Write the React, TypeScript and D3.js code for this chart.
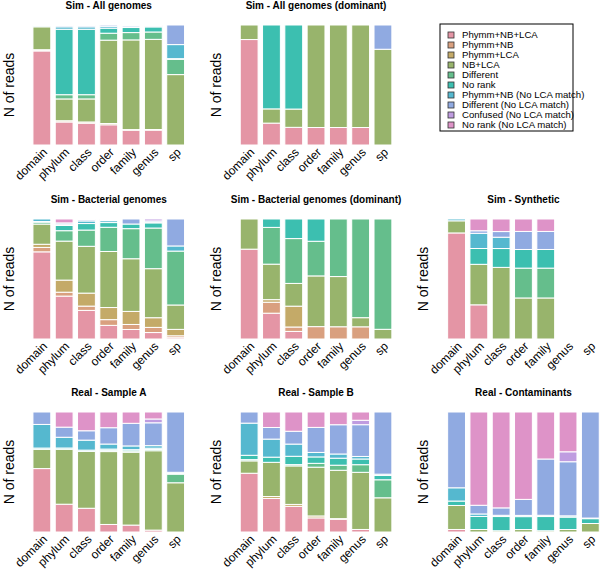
import React from "react";
import * as d3 from "d3";

const categories = [
  "Phymm+NB+LCA",
  "Phymm+NB",
  "Phymm+LCA",
  "NB+LCA",
  "Different",
  "No rank",
  "Phymm+NB (No LCA match)",
  "Different (No LCA match)",
  "Confused (No LCA match)",
  "No rank (No LCA match)",
];
const colors = [
  "#E495A5", "#D9A07F", "#C4AA68", "#98B46C", "#65BE8C",
  "#3CBFB0", "#55B8CF", "#90AAE1", "#BF9CE0", "#DE93C8",
];
const ranks = ["domain", "phylum", "class", "order", "family", "genus", "sp"];

const simAll = [
  [78, 0.5, 0.5, 19, 0.5, 0.5, 0.5, 0, 0, 0],
  [19, 0, 1, 18, 3.5, 54, 2, 1, 0, 0.5],
  [18, 0, 1, 19, 3.5, 54, 2, 1, 0, 0.5],
  [16, 0, 1, 66, 5.5, 4, 1.5, 1, 0, 0],
  [11.7, 0, 0.5, 71, 5.8, 4, 0.5, 1, 0, 0.5],
  [11.7, 0, 0.5, 71, 5.8, 4, 0.5, 0.5, 0, 0.5],
  [0, 0, 0, 57.5, 12.5, 0.5, 11.5, 16, 0, 0],
];
const simAllDominant = [
  [87, 0, 0, 12, 0, 0, 0, 0, 0, 0],
  [18, 0, 0, 11.7, 0, 69, 0, 0, 0, 0],
  [14.5, 0, 0, 15, 0, 69, 0, 0, 0, 0],
  [14.5, 0, 0, 85, 0, 0, 0, 0, 0, 0],
  [14.5, 0, 0, 85, 0, 0, 0, 0, 0, 0],
  [14.5, 0, 0, 85, 0, 0, 0, 0, 0, 0],
  [0, 0, 0, 79, 0, 0, 0, 20, 0, 0],
];
const simBacterial = [
  [69, 3.5, 2.5, 16, 1.5, 0.5, 2, 0, 0, 0],
  [33, 3, 9.3, 30, 8, 4, 1, 1, 0, 3],
  [22, 3.3, 10, 36, 12.5, 5, 2, 1, 0, 0.5],
  [10.7, 4.5, 9.5, 44, 19, 3.7, 1.5, 0.8, 0, 0.5],
  [7.6, 4, 10.4, 42, 24, 3.7, 0, 4, 0, 0],
  [5, 4, 7.5, 38, 31.5, 4, 0.5, 1, 1.5, 0],
  [1, 1.5, 5, 19, 42, 0, 4, 21, 0, 0],
];
const simBacterialDominant = [
  [73, 0, 0, 24.5, 0, 0, 0, 0, 0, 0],
  [20, 8.5, 2, 27.5, 28.5, 6.5, 0, 0, 0, 0],
  [6, 3.5, 16.5, 18, 35.5, 15.5, 0, 0, 0, 0],
  [0, 10, 0, 41, 28, 18, 0, 0, 0, 0],
  [0, 10, 0, 41, 47, 0, 0, 0, 0, 0],
  [0, 10, 0, 7.5, 81, 0, 0, 0, 0, 0],
  [0, 0, 0, 8, 91, 0, 0, 0, 0, 0],
];
const simSynthetic = [
  [87.5, 0, 0, 10, 0, 0, 1.5, 0, 0, 0],
  [27, 0, 0, 32, 0, 12.5, 12, 2, 0, 9.3],
  [0, 0, 0, 57, 0, 15, 9, 4.5, 0, 10],
  [0, 0, 0, 33, 24, 15, 0, 14.5, 0, 10],
  [0, 0, 0, 33, 24, 15, 0, 14.5, 0, 10],
  null,
  null,
];
const realA = [
  [51, 0, 0, 15.5, 0, 1, 19, 10, 0, 0],
  [22, 0, 0, 43.5, 0, 1, 8.5, 8, 0, 12],
  [19, 0, 0, 45.5, 0, 1, 8, 7.5, 0, 15],
  [6, 0, 0, 58, 1, 1, 4, 13, 0, 12.5],
  [5.5, 0, 0, 58, 1, 1, 3, 18, 0, 9],
  [1.5, 0, 0, 62.5, 1, 1, 2, 18, 3, 5.5],
  [0, 0, 0, 40, 7, 0.5, 1, 49, 0, 0],
];
const realB = [
  [47.5, 0, 0, 10, 1, 3.5, 26, 9, 0, 0],
  [26, 0, 1.5, 26.5, 0, 4, 14, 9, 0, 12],
  [20, 0, 1.5, 30, 1, 6.5, 9.5, 10, 0, 15],
  [11, 0, 1.5, 38, 3, 5, 3.5, 19.5, 0, 12],
  [10, 0, 0.5, 38, 4, 5.5, 3.3, 23, 0, 10],
  [2, 0, 0, 45, 6, 4.5, 2, 25, 3.5, 6.5],
  [0, 0, 0, 27.5, 14.5, 3.5, 1, 50, 0, 0],
];
const realContaminants = [
  [2, 0, 0, 19, 0, 3.5, 10.5, 60, 0, 0],
  [0, 0, 0, 2, 0, 10.5, 2, 7, 0, 75],
  [0, 0, 0, 1, 0, 11.5, 1, 6, 0, 77.5],
  [0, 0, 0, 2, 0, 10.5, 1, 13, 0, 71],
  [0, 0, 0, 1, 0, 11.5, 1, 45.5, 0, 38],
  [0, 0, 0, 2, 0, 10, 1, 43.5, 8, 32],
  [0, 0, 0, 7, 0, 4, 0.5, 87.5, 0, 0],
];

const panelTitles = [
  "Sim - All genomes",
  "Sim - All genomes (dominant)",
  "Sim - Bacterial genomes",
  "Sim - Bacterial genomes (dominant)",
  "Sim - Synthetic",
  "Real - Sample A",
  "Real - Sample B",
  "Real - Contaminants",
];
const panelData = [simAll, simAllDominant, simBacterial, simBacterialDominant, simSynthetic, realA, realB, realContaminants];
const panelCells = [[0, 0], [0, 1], [1, 0], [1, 1], [1, 2], [2, 0], [2, 1], [2, 2]];

const FONT = "'Liberation Sans', Arial, Helvetica, sans-serif";
const colX = [29.6, 236.9, 444.3];
const rowTop = [25, 219, 412];
const plotH = 120;
const plotW = 158.3;

function Panel({ title, data, row, col }: { title: string; data: (number[] | null)[]; row: number; col: number }) {
  const x0 = colX[col];
  const top = rowTop[row];
  const bottom = top + plotH;
  const x = d3.scaleBand<string>().domain(ranks).range([x0, x0 + plotW]).paddingInner(0.2).paddingOuter(0.15);
  const y = d3.scaleLinear().domain([0, 1]).range([bottom, top]);
  const rows = ranks
    .map((r, i) => ({ rank: r, vals: data[i] }))
    .filter((d) => d.vals)
    .map((d) => {
      const o: any = { rank: d.rank };
      categories.forEach((c, k) => (o[c] = (d.vals as number[])[k]));
      return o;
    });
  const stack = d3.stack<any>().keys(categories).offset(d3.stackOffsetExpand);
  const series = stack(rows);
  const cxMid = x0 + plotW / 2;
  return (
    <g>
      <text x={cxMid} y={top - 16} textAnchor="middle" fontFamily={FONT} fontWeight="bold" fontSize={10} fill="#000">
        {title}
      </text>
      <text
        transform={`translate(${x0 - 16},${(top + bottom) / 2}) rotate(-90)`}
        textAnchor="middle"
        fontFamily={FONT}
        fontSize={14}
        fill="#000"
      >
        N of reads
      </text>
      {series.map((s, k) =>
        s.map((seg: any, j: number) => {
          const h = y(seg[0]) - y(seg[1]);
          if (!(h > 0)) return null;
          return (
            <rect
              key={`${k}-${j}`}
              x={x(seg.data.rank)}
              y={y(seg[1])}
              width={x.bandwidth()}
              height={h}
              fill={colors[k]}
              stroke="#fff"
              strokeWidth={1}
            />
          );
        })
      )}
      {ranks.map((r) => {
        const cx = (x(r) as number) + x.bandwidth() / 2;
        return (
          <text
            key={r}
            transform={`translate(${cx + 6},${bottom + 8}) rotate(-45)`}
            textAnchor="end"
            fontFamily={FONT}
            fontSize={12}
            fill="#000"
          >
            {r}
          </text>
        );
      })}
    </g>
  );
}

function Legend() {
  const lx = 440;
  const ly = 24;
  return (
    <g>
      <rect x={lx} y={ly} width={133} height={107} fill="#fff" stroke="#000" strokeWidth={1} />
      {categories.map((c, i) => (
        <g key={c}>
          <rect x={lx + 8} y={ly + 8 + i * 10} width={6} height={6} fill={colors[i]} stroke="#333" strokeWidth={0.8} />
          <text x={lx + 22} y={ly + 14.4 + i * 10} fontFamily={FONT} fontSize={9.6} fill="#000">
            {c}
          </text>
        </g>
      ))}
    </g>
  );
}

export default function App() {
  return (
    <svg width={600} height={569} style={{ position: "absolute", left: 0, top: 0, background: "#fff" }}>
      <rect x={0} y={0} width={600} height={569} fill="#fff" />
      {panelTitles.map((t, i) => (
        <Panel key={t} title={t} data={panelData[i]} row={panelCells[i][0]} col={panelCells[i][1]} />
      ))}
      <Legend />
    </svg>
  );
}
